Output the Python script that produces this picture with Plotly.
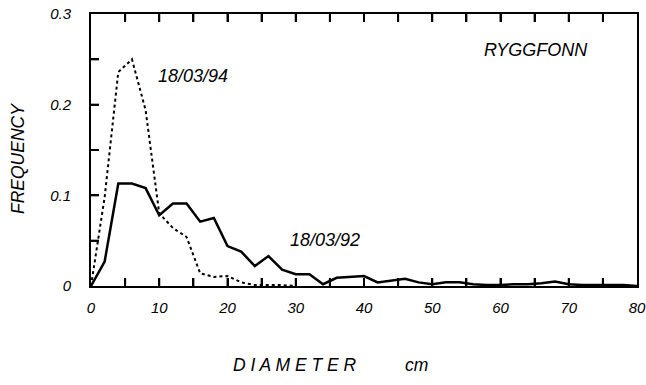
import plotly.graph_objects as go

diameter_92 = [0, 2, 4, 6, 8, 10, 12, 14, 16, 18, 20, 22, 24, 26, 28, 30, 32, 34, 36, 38, 40,
               42, 44, 46, 48, 50, 52, 54, 56, 58, 60, 62, 64, 66, 68, 70, 72, 74, 76, 78, 80]
freq_92 = [0, 0.027, 0.113, 0.113, 0.108, 0.078, 0.091, 0.091, 0.071, 0.075, 0.044, 0.038, 0.022,
           0.033, 0.018, 0.013, 0.013, 0.002, 0.009, 0.010, 0.011, 0.004, 0.006, 0.008, 0.004,
           0.002, 0.004, 0.004, 0.002, 0.001, 0.001, 0.002, 0.002, 0.003, 0.005, 0.002, 0.001,
           0.001, 0.001, 0.001, 0.0]

diameter_94 = [0, 2, 4, 6, 8, 10, 12, 14, 16, 18, 20, 22, 24, 26, 28, 30]
freq_94 = [0, 0.098, 0.236, 0.250, 0.194, 0.080, 0.064, 0.054, 0.014, 0.010, 0.011, 0.004,
           0.001, 0.001, 0.001, 0.0]

x_tick_vals = [0, 5, 10, 15, 20, 25, 30, 35, 40, 45, 50, 55, 60, 65, 70, 75, 80]
x_tick_text = ["0", "", "10", "", "20", "", "30", "", "40", "", "50", "", "60", "", "70", "", "80"]
y_tick_vals = [0, 0.05, 0.1, 0.15, 0.2, 0.25, 0.3]
y_tick_text = ["0", "", "0.1", "", "0.2", "", "0.3"]

FONT = "Liberation Sans"
PLOT_W, PLOT_H = 546, 272
TICK_LEN = 8

fig = go.Figure()
fig.add_trace(go.Scatter(x=diameter_92, y=freq_92, mode="lines",
                         line=dict(color="black", width=2.5), name="18/03/92"))
fig.add_trace(go.Scatter(x=diameter_94, y=freq_94, mode="lines",
                         line=dict(color="black", width=2, dash="dot"), name="18/03/94"))

tickfont = dict(family=FONT, size=15, color="black", style="italic")

fig.update_layout(
    xaxis=dict(range=[0, 80], tickmode="array", tickvals=x_tick_vals, ticktext=x_tick_text,
               ticks="inside", ticklen=TICK_LEN, tickwidth=2, tickcolor="black",
               automargin=False, showline=True, linecolor="black", linewidth=2,
               mirror="allticks", showgrid=False, zeroline=False, tickfont=tickfont,
               ticklabelstandoff=7, ticklabeloverflow="allow"),
    yaxis=dict(range=[0, 0.3], tickmode="array", tickvals=y_tick_vals, ticktext=y_tick_text,
               ticks="inside", ticklen=TICK_LEN, tickwidth=2, tickcolor="black",
               showline=True, linecolor="black", linewidth=2,
               mirror=True, showgrid=False, zeroline=False, tickfont=tickfont,
               ticklabelstandoff=15, ticklabeloverflow="allow", automargin=False),
)

# explicit inward tick marks (bottom, top and left), placed at the axis tick values
tick_line = dict(color="black", width=2)
for v in x_tick_vals[1:-1]:
    fig.add_shape(type="line", xref="x", yref="paper", x0=v, x1=v,
                  y0=0, y1=TICK_LEN / PLOT_H, line=tick_line)
    fig.add_shape(type="line", xref="x", yref="paper", x0=v, x1=v,
                  y0=1, y1=1 - TICK_LEN / PLOT_H, line=tick_line)
for v in y_tick_vals[1:-1]:
    fig.add_shape(type="line", xref="paper", yref="y", x0=0, x1=TICK_LEN / PLOT_W,
                  y0=v, y1=v, line=tick_line)

annfont = dict(family=FONT, size=18, color="black", style="italic")
fig.add_annotation(x=14.9, y=0.232, text="18/03/94", showarrow=False, font=annfont)
fig.add_annotation(x=34.3, y=0.051, text="18/03/92", showarrow=False, font=annfont)
fig.add_annotation(x=73.1, y=0.26, text="RYGGFONN", showarrow=False, font=annfont, xanchor="right")

titlefont = dict(family=FONT, size=17.5, color="black", style="italic")
fig.add_annotation(xref="paper", yref="paper", x=(18 - 91) / PLOT_W, y=(286 - 159) / PLOT_H,
                   text="FREQUENCY", textangle=-90, showarrow=False,
                   xanchor="center", yanchor="middle", font=titlefont)
fig.add_annotation(xref="paper", yref="paper", x=(295 - 91) / PLOT_W, y=-(365 - 286) / PLOT_H,
                   text="D I A M E T E R", showarrow=False,
                   xanchor="center", yanchor="middle", font=titlefont)
fig.add_annotation(xref="paper", yref="paper", x=(416 - 91) / PLOT_W, y=-(365 - 286) / PLOT_H,
                   text="cm", showarrow=False,
                   xanchor="center", yanchor="middle", font=titlefont)

fig.update_layout(width=646, height=385, margin=dict(l=91, r=9, t=14, b=99),
                  paper_bgcolor="white", plot_bgcolor="white", showlegend=False)

# remove the default 8px page margin so the figure fills the window exactly
fig.write_html("out.html", config={"displayModeBar": False},
               post_script="document.body.style.margin='0px';")
